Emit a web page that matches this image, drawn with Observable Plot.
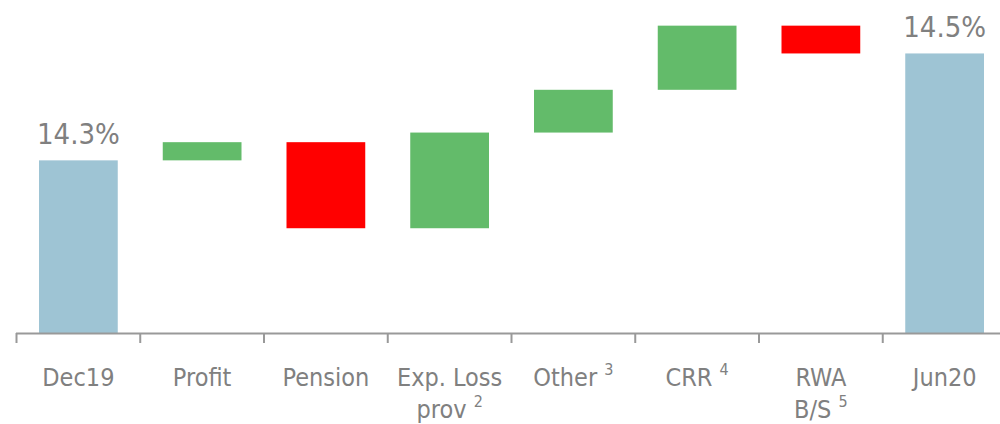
<!DOCTYPE html>
<html><head><meta charset="utf-8">
<script src="https://cdn.jsdelivr.net/npm/d3@7"></script>
<script src="https://cdn.jsdelivr.net/npm/@observablehq/plot@0.6"></script>
<style>
body{margin:0;background:#fff}
svg text{font-stretch:condensed}
</style>
</head><body><div id="chart"></div>
<script>
const categories = ["Dec19","Profit","Pension","Exp. Loss\nprov","Other","CRR","RWA\nB/S","Jun20"];
const footnotes = ["","","","2","3","4","5",""];
const kinds = ["total","step","step","step","step","step","step","total"];
const values = [14.3, 0.034, -0.161, 0.179, 0.080, 0.120, -0.052, 14.5];
const valueLabels = ["14.3%","","","","","","","14.5%"];
const axisBase = 13.977;
const axisTop = 14.6;

const colors = {total:"#9ec4d4", up:"#63bb6a", down:"#ff0000"};
const SUP = "\u2060"; // marker for footnote start
let cum = 0;
const rows = categories.map((c,i)=>{
  let y1,y2,kind;
  if(kinds[i]==="total"){ y1=axisBase; y2=values[i]; cum=values[i]; kind="total"; }
  else { y1=cum; y2=cum+values[i]; cum=y2; kind=values[i]>=0?"up":"down"; }
  const text = footnotes[i] ? c + " " + SUP + footnotes[i] : c;
  return {i, category:text, y1, y2, kind, label:valueLabels[i]};
});
const font = "'DejaVu Sans Condensed', 'DejaVu Sans', sans-serif";
const gray = "#808080";

const chart = Plot.plot({
  width:1000, height:424,
  marginLeft:16, marginRight:0, marginTop:0, marginBottom:91,
  style:{fontFamily:font, background:"#fff"},
  x:{domain:[0,8], range:[16,1006]},
  y:{domain:[axisBase,axisTop], axis:null},
  marks:[
    Plot.rectY(rows,{x1:d=>d.i, x2:d=>d.i+1, y1:"y1", y2:"y2", fill:d=>colors[d.kind], insetLeft:23, insetRight:22}),
    Plot.ruleY([axisBase],{stroke:"#999", strokeWidth:2}),
    Plot.axisX({ticks:d3.range(9), tickSize:10, tickFormat:()=>"", stroke:"#999", strokeWidth:2, label:null}),
    Plot.text(rows.filter(d=>d.label),{x:d=>d.i+0.5, y:"y2", text:"label", dy:-17, lineAnchor:"bottom", fontSize:29, fill:gray, fontFamily:font}),
    Plot.text(rows,{x:d=>d.i+0.5, y:()=>axisBase, text:"category", dy:29, lineAnchor:"top", lineHeight:1.3, fontSize:25, fill:gray, fontFamily:font})
  ]
});

// turn footnote markers into raised superscripts
const walker = document.createTreeWalker(chart, NodeFilter.SHOW_TEXT);
const nodes = [];
while (walker.nextNode()) if (walker.currentNode.nodeValue.includes(SUP)) nodes.push(walker.currentNode);
for (const n of nodes) {
  const [before, after] = n.nodeValue.split(SUP);
  const parent = n.parentNode;
  const t = document.createElementNS("http://www.w3.org/2000/svg","tspan");
  t.setAttribute("font-size","16");
  t.setAttribute("dy","-11");
  t.textContent = after;
  n.nodeValue = before;
  parent.insertBefore(t, n.nextSibling);
}
document.getElementById("chart").appendChild(chart);
</script>
</body></html>
